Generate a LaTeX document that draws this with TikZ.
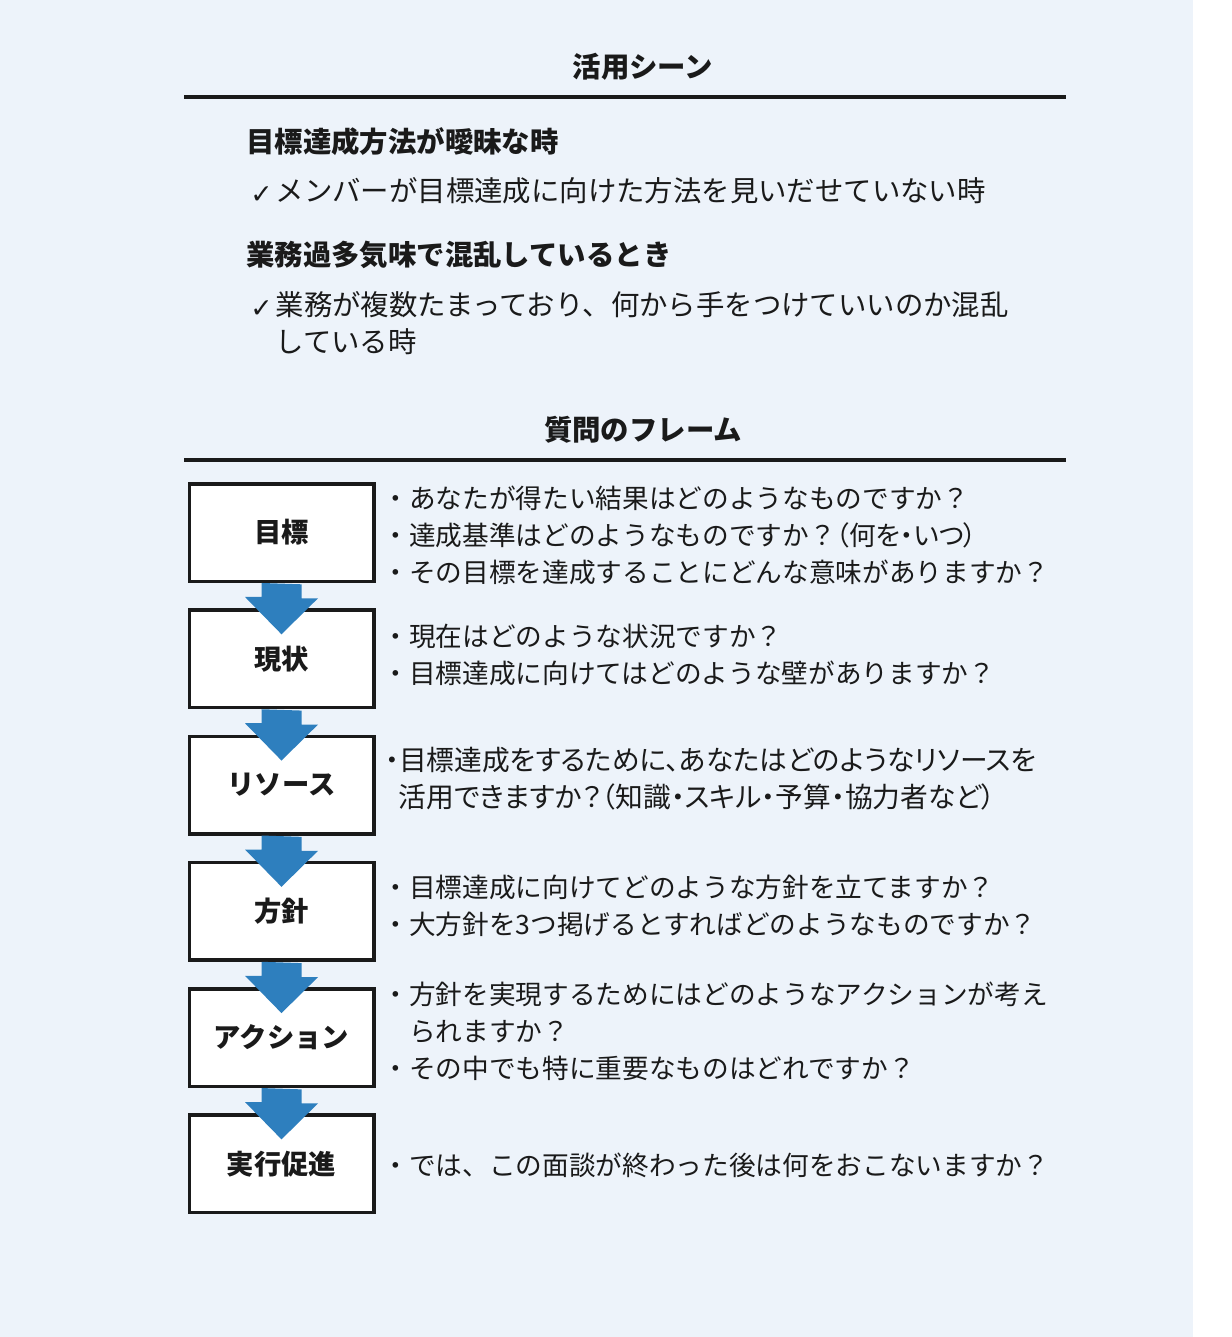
\documentclass[tikz,border=0pt]{standalone}
\usepackage{fontspec}
\setmainfont{Noto Sans CJK JP}
\newfontfamily\jppalt[RawFeature=+palt]{Noto Sans CJK JP}
\newfontfamily\symfont{DejaVu Sans}
\usetikzlibrary{positioning}
\definecolor{bgblue}{RGB}{237,243,250}
\definecolor{arrowblue}{RGB}{46,127,190}
\definecolor{inkblack}{RGB}{26,26,26}
\newcommand{\chk}{\makebox[19pt][l]{\symfont\fontsize{20}{20}\selectfont\raisebox{-1pt}{✓}}}
\tikzset{
  stepbox/.style={draw=inkblack, fill=white, line width=2.6pt, minimum width=138.4pt,
    minimum height=73.1pt, inner sep=0pt, text=inkblack, font=\fontsize{20.5}{24}\selectfont\bfseries},
  asktext/.style={anchor=west, inner sep=0pt, align=left, text=inkblack,
    font=\fontsize{20}{27.75}\selectfont},
  asktight/.style={asktext, font=\fontsize{20.8}{27.75}\jppalt},
  scenehead/.style={inner sep=0pt, text=inkblack, font=\fontsize{21.3}{24}\selectfont\bfseries},
  casetitle/.style={anchor=west, inner sep=0pt, text=inkblack, font=\fontsize{21.3}{24}\selectfont\bfseries},
  casetext/.style={anchor=west, inner sep=0pt, align=left, text=inkblack,
    font=\fontsize{21.3}{27.3}\selectfont},
  headrule/.style={draw=inkblack, line width=2.3pt}
}
\begin{document}
\begin{tikzpicture}[x=0.75pt, y=-0.75pt]
  \fill[white] (0,0) rectangle (1231,1337);
  \fill[bgblue] (0,0) rectangle (1193,1337);
  \useasboundingbox (0,0) rectangle (1231,1337);
  % 活用シーン
  \node[scenehead] (scene) at (643,67) {活用シーン};
  \draw[headrule] (184,97) -- (1066,97);
  \node[casetitle] (case1) at (246,142) {目標達成方法が曖昧な時};
  \node[casetext] (check1) at (250,191) {\chk メンバーが目標達成に向けた方法を見いだせていない時};
  \node[casetitle] (case2) at (246,255) {業務過多気味で混乱しているとき};
  \node[casetext] (check2) at (250,323) {\chk 業務が複数たまっており、何から手をつけていいのか混乱\\\hspace*{19pt}している時};
  % 質問のフレーム
  \node[scenehead] (frame) at (643,430) {質問のフレーム};
  \draw[headrule] (184,460) -- (1066,460);
  \node[stepbox] (goal) at (281.5,532.5) {目標};
  \node[stepbox, below=19pt of goal] (now) {現状};
  \node[stepbox, below=19pt of now] (resource) {リソース};
  \node[stepbox, below=19pt of resource] (policy) {方針};
  \node[stepbox, below=19pt of policy] (action) {アクション};
  \node[stepbox, below=19pt of action] (execute) {実行促進};
  \foreach \a/\b in {goal/now, now/resource, resource/policy, policy/action, action/execute}
    \fill[arrowblue] (\a.south) ++(-20,0) -- ++(0,14) -- ++(-16.5,0) -- ([yshift=-19.5pt]\b.north)
      -- ++(36.5,-36) -- ++(-16.5,0) -- ++(0,-14) -- cycle;
  \node[asktext, right=5pt of goal, yshift=-2pt] (goalq) {・あなたが得たい結果はどのようなものですか？\\・達成基準はどのようなものですか？{\jppalt （何を・いつ）}\\・その目標を達成することにどんな意味がありますか？};
  \node[asktext, right=5pt of now, yshift=3pt] (nowq) {・現在はどのような状況ですか？\\・目標達成に向けてはどのような壁がありますか？};
  \node[asktight, right=7pt of resource, yshift=5pt] (resourceq) {・目標達成をするために、あなたはどのようなリソースを\\\phantom{・}活用できますか？（知識・スキル・予算・協力者など）};
  \node[asktext, right=5pt of policy, yshift=4pt] (policyq) {・目標達成に向けてどのような方針を立てますか？\\・大方針を3つ掲げるとすればどのようなものですか？};
  \node[asktext, right=5pt of action, yshift=5pt] (actionq) {・方針を実現するためにはどのようなアクションが考え\\\phantom{・}られますか？\\・その中でも特に重要なものはどれですか？};
  \node[asktext, right=5pt of execute, yshift=-1pt] (executeq) {・では、この面談が終わった後は何をおこないますか？};
\end{tikzpicture}
\end{document}
